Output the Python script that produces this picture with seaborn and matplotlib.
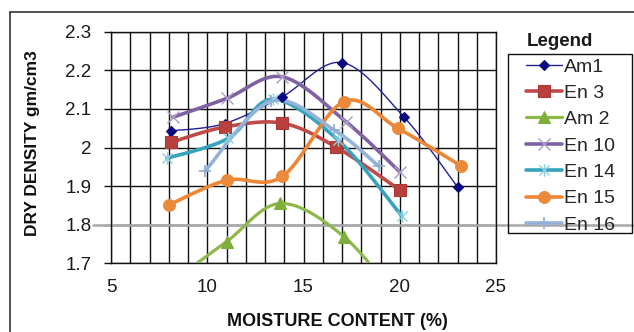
import numpy as np
import pandas as pd
import matplotlib
matplotlib.use('Agg')
import matplotlib.pyplot as plt
import seaborn as sns
from matplotlib.lines import Line2D
from matplotlib.patches import Rectangle
from matplotlib.path import Path
from matplotlib.ticker import MultipleLocator, FuncFormatter

# Data (moisture content %, dry density gm/cm3)
SERIES = ['Am1', 'En 3', 'Am 2', 'En 10', 'En 14', 'En 15', 'En 16']
AM1_X = [8.1, 10.9, 13.9, 17.0, 20.2, 23.0]
AM1_Y = [2.043, 2.062, 2.132, 2.220, 2.080, 1.898]
EN3_X = [8.1, 10.9, 13.9, 16.7, 20.0]
EN3_Y = [2.013, 2.053, 2.063, 2.001, 1.890]
AM2_X = [8.1, 11.0, 13.8, 17.1, 20.0]
AM2_Y = [1.650, 1.756, 1.855, 1.769, 1.600]
EN10_X = [8.2, 11.0, 13.9, 17.2, 20.0]
EN10_Y = [2.078, 2.127, 2.183, 2.067, 1.937]
EN14_X = [7.9, 11.1, 13.4, 16.8, 20.1]
EN14_Y = [1.972, 2.024, 2.125, 2.019, 1.823]
EN15_X = [8.0, 11.0, 13.9, 17.1, 19.9, 23.2]
EN15_Y = [1.851, 1.915, 1.925, 2.119, 2.050, 1.952]
EN16_X = [9.9, 13.3, 16.6, 18.9]
EN16_Y = [1.940, 2.120, 2.045, 1.952]

Y_TICKS = [1.7, 1.8, 1.9, 2.0, 2.1, 2.2, 2.3]
X_TICKS = [5, 10, 15, 20, 25]

# Styles
STYLE = {
    'Am1':   dict(color='#1f1f96', lw=1.0, marker='D', ms=5.5, mfc='#0a0a80', mec='#0a0a80', mew=0.8),
    'En 3':  dict(color='#be4b48', lw=2.6, marker='s', ms=9.0, mfc='#b9403d', mec='#a93a37', mew=0.8),
    'Am 2':  dict(color='#8db84a', lw=2.3, marker='^', ms=8.0, mfc='#7fae3a', mec='#7fae3a', mew=0.8),
    'En 10': dict(color='#7f63a1', lw=2.6, marker='x', ms=9.0, mfc='none', mec='#ab9bc9', mew=1.0),
    'En 14': dict(color='#36a3bd', lw=2.6, marker=None, ms=9.0, mfc='none', mec='#8ccfe0', mew=1.0),
    'En 15': dict(color='#ee8633', lw=2.6, marker='o', ms=8.5, mfc='#ec8a3c', mec='#ec8a3c', mew=0.8),
    'En 16': dict(color='#95b3d7', lw=2.6, marker='+', ms=9.0, mfc='none', mec='#8fabd6', mew=1.2),
}
ASTERISK = Path([(-1, -1), (1, 1), (-1, 1), (1, -1), (0, -1.25), (0, 1.25)],
                [Path.MOVETO, Path.LINETO, Path.MOVETO, Path.LINETO, Path.MOVETO, Path.LINETO])
STYLE['En 14']['marker'] = ASTERISK

FIG_W, FIG_H, DPI = 634, 332, 100


def smooth(xs, ys, n=24):
    # Excel-like smoothed line (bezier through the points)
    p = np.column_stack([xs, ys]).astype(float)
    p = np.vstack([p[0], p, p[-1]])
    out = []
    t = np.linspace(0, 1, n)[:, None]
    for i in range(1, len(p) - 2):
        p0, p1, p2, p3 = p[i - 1], p[i], p[i + 1], p[i + 2]
        c1 = p1 + (p2 - p0) / 6
        c2 = p2 - (p3 - p1) / 6
        seg = (1 - t) ** 3 * p1 + 3 * (1 - t) ** 2 * t * c1 + 3 * (1 - t) * t ** 2 * c2 + t ** 3 * p2
        out.append(seg if i == 1 else seg[1:])
    s = np.vstack(out)
    return s[:, 0], s[:, 1]


frames = []
for name, xs, ys in zip(SERIES,
                        [AM1_X, EN3_X, AM2_X, EN10_X, EN14_X, EN15_X, EN16_X],
                        [AM1_Y, EN3_Y, AM2_Y, EN10_Y, EN14_Y, EN15_Y, EN16_Y]):
    frames.append(pd.DataFrame({'series': name, 'x': xs, 'y': ys}))
df = pd.concat(frames, ignore_index=True)

sns.set_theme(style='white')
plt.rcParams['font.family'] = ['Liberation Sans', 'DejaVu Sans']

fig = plt.figure(figsize=(FIG_W / DPI, FIG_H / DPI), dpi=DPI)
ax = fig.add_axes([111 / FIG_W, 1 - 263.3 / FIG_H, 385 / FIG_W, 231.6 / FIG_H])

# grid
ax.set_xlim(5, 25)
ax.set_ylim(1.7, 2.3)
ax.xaxis.set_major_locator(MultipleLocator(5))
ax.xaxis.set_minor_locator(MultipleLocator(1))
ax.set_yticks(Y_TICKS)
ax.yaxis.set_major_formatter(FuncFormatter(lambda v, _: f'{v:g}'))
ax.grid(which='both', axis='x', color='#111111', lw=1.0)
ax.grid(which='major', axis='y', color='#111111', lw=1.0)
ax.set_axisbelow(True)
ax.axhline(1.8, xmin=(93 - 111) / 385, xmax=(634 - 111) / 385, color='#a8a8a8', lw=1.8,
           clip_on=False, zorder=1.5)

# lines
for name in SERIES:
    d = df[df['series'] == name]
    sx, sy = smooth(d['x'].values, d['y'].values)
    st = STYLE[name]
    sns.lineplot(x=sx, y=sy, sort=False, estimator=None, color=st['color'], lw=st['lw'],
                 ax=ax, zorder=3)

# markers
for name in SERIES:
    d = df[df['series'] == name]
    st = STYLE[name]
    ax.plot(d['x'], d['y'], ls='none', marker=st['marker'], ms=st['ms'], mfc=st['mfc'],
            mec=st['mec'], mew=st['mew'], zorder=4)

for sp in ax.spines.values():
    sp.set_color('#111111')
    sp.set_linewidth(1.0)

ax.tick_params(axis='y', which='major', left=True, length=5, width=1.0, color='#111111',
               pad=9, labelsize=13.5, labelcolor='#1a1a1a')
ax.tick_params(axis='x', which='both', bottom=False, length=0, pad=11, labelsize=13.5,
               labelcolor='#1a1a1a')
ax.set_xticks(X_TICKS)

ax.set_xlabel('MOISTURE CONTENT (%)', fontsize=13, fontweight='bold', color='#111111')
ax.xaxis.set_label_coords((337 - 111) / 385, -(313 - 263.3) / 231.6)
ax.set_ylabel('DRY DENSITY gm/cm3', fontsize=12.5, fontweight='bold', color='#111111')
ax.yaxis.set_label_coords(-(111 - 40) / 385, 0.52)

# legend
handles = [Line2D([], [], color=STYLE[n]['color'], lw=STYLE[n]['lw'], marker=STYLE[n]['marker'],
                  ms=STYLE[n]['ms'], mfc=STYLE[n]['mfc'], mec=STYLE[n]['mec'], mew=STYLE[n]['mew'])
           for n in SERIES]
fig.legend(handles, SERIES, loc='upper left', bbox_to_anchor=(522 / FIG_W, 1 - 54 / FIG_H),
           frameon=False, fontsize=14, handlelength=1.85, handletextpad=0.1,
           labelspacing=0.45, borderpad=0.2, borderaxespad=0)
fig.add_artist(Rectangle((508 / FIG_W, 1 - 233 / FIG_H), 124 / FIG_W, 179 / FIG_H,
                         transform=fig.transFigure, fill=False, edgecolor='#111111', lw=1.0))
fig.text(560 / FIG_W, 1 - 42 / FIG_H, 'Legend', ha='center', va='center', fontsize=13.5,
         fontweight='bold', color='#1a1a1a')

# outer chart border
fig.add_artist(Line2D([9.5 / FIG_W, 1], [1 - 12 / FIG_H, 1 - 12 / FIG_H], transform=fig.transFigure,
                      color='#333333', lw=1.2))
fig.add_artist(Line2D([9.5 / FIG_W, 9.5 / FIG_W], [0, 1 - 12 / FIG_H], transform=fig.transFigure,
                      color='#333333', lw=1.2))

fig.savefig('out.png', dpi=DPI)
plt.close(fig)
